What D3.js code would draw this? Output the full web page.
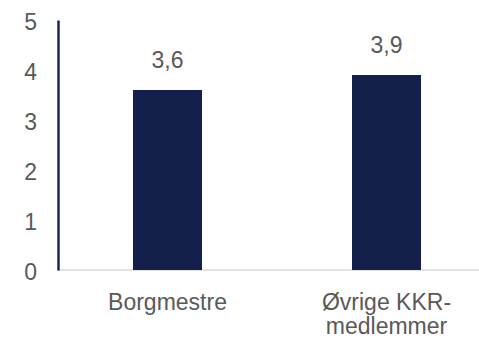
<!DOCTYPE html>
<html>
<head>
<meta charset="utf-8">
<script src="https://cdn.jsdelivr.net/npm/d3@7"></script>
<style>
  html, body { margin: 0; padding: 0; background: #fff; }
  svg { display: block; }
  text { font-family: "Liberation Sans", Arial, sans-serif; fill: #595959; }
</style>
</head>
<body>
<svg id="chart" width="479" height="338"></svg>
<script>
// Average score per group
const categories = ["Borgmestre", "Øvrige KKR-medlemmer"];
const categoryLines = [["Borgmestre"], ["Øvrige KKR-", "medlemmer"]];
const values = [3.6, 3.9];
const valueLabels = ["3,6", "3,9"];
const yTicks = [0, 1, 2, 3, 4, 5];

(function () {
  const svg = d3.select("#chart");
  const plotLeft = 58, plotRight = 496, plotTop = 20, plotBottom = 270;
  const fontSize = 23;

  const x = d3.scaleBand()
    .domain(categories)
    .range([plotLeft, plotRight])
    .paddingInner(0.685)
    .paddingOuter(0.3425);

  const y = d3.scaleLinear().domain([0, 5]).range([plotBottom, plotTop]);

  // Category baseline
  svg.append("line")
    .attr("x1", plotLeft).attr("x2", 479)
    .attr("y1", y(0)).attr("y2", y(0))
    .attr("stroke", "#d9d9d9").attr("stroke-width", 1.5);

  // Bars
  svg.selectAll("rect.bar")
    .data(values)
    .join("rect")
    .attr("class", "bar")
    .attr("x", (d, i) => x(categories[i]))
    .attr("width", x.bandwidth())
    .attr("y", d => y(d))
    .attr("height", d => y(0) - y(d))
    .attr("fill", "#141f4b");

  // Value labels
  svg.selectAll("text.val")
    .data(values)
    .join("text")
    .attr("class", "val")
    .attr("x", (d, i) => x(categories[i]) + x.bandwidth() / 2)
    .attr("y", d => y(d) - 22)
    .attr("text-anchor", "middle")
    .attr("font-size", fontSize)
    .text((d, i) => valueLabels[i]);

  // Y axis
  const yAxis = d3.axisLeft(y)
    .tickValues(yTicks)
    .tickSize(0)
    .tickPadding(21)
    .tickFormat(d3.format("d"));
  const gy = svg.append("g")
    .attr("transform", `translate(${plotLeft},0)`)
    .call(yAxis);
  gy.select(".domain").attr("stroke", "#141f4b").attr("stroke-width", 2.4);
  gy.selectAll(".tick text")
    .attr("font-size", fontSize)
    .attr("fill", "#595959")
    .attr("dy", "0.42em")
    .style("font-family", "'Liberation Sans', Arial, sans-serif");

  // Category labels
  const cat = svg.selectAll("text.cat")
    .data(categories)
    .join("text")
    .attr("class", "cat")
    .attr("text-anchor", "middle")
    .attr("font-size", fontSize)
    .attr("x", d => x(d) + x.bandwidth() / 2)
    .attr("y", 310);
  cat.selectAll("tspan")
    .data((d, i) => categoryLines[i])
    .join("tspan")
    .attr("x", function () { return d3.select(this.parentNode).attr("x"); })
    .attr("dy", (d, j) => j === 0 ? 0 : 24)
    .text(d => d);
})();
</script>
</body>
</html>
